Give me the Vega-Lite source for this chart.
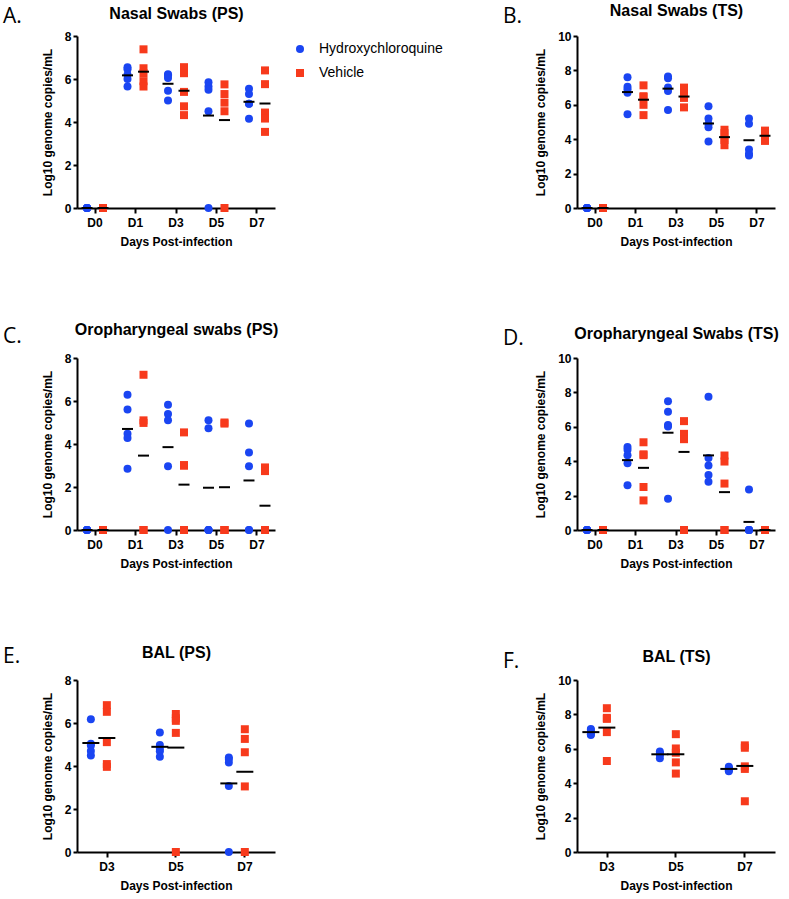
{
  "$schema": "https://vega.github.io/schema/vega-lite/v6.json",
  "padding": {"left": 3, "top": 2, "right": 5, "bottom": 5},
  "columns": 2,
  "bounds": "flush",
  "spacing": {"row": 150, "column": 302},
  "datasets": {
    "nasalPS": [
      {"day":"D0","group":"Hydroxychloroquine","value":0},{"day":"D0","group":"Hydroxychloroquine","value":0},{"day":"D0","group":"Hydroxychloroquine","value":0},{"day":"D0","group":"Hydroxychloroquine","value":0},{"day":"D0","group":"Hydroxychloroquine","value":0},
      {"day":"D0","group":"Vehicle","value":0},{"day":"D0","group":"Vehicle","value":0},{"day":"D0","group":"Vehicle","value":0},{"day":"D0","group":"Vehicle","value":0},{"day":"D0","group":"Vehicle","value":0},
      {"day":"D1","group":"Hydroxychloroquine","value":6.55},{"day":"D1","group":"Hydroxychloroquine","value":6.45},{"day":"D1","group":"Hydroxychloroquine","value":6.2},{"day":"D1","group":"Hydroxychloroquine","value":6.0},{"day":"D1","group":"Hydroxychloroquine","value":5.65},
      {"day":"D1","group":"Vehicle","value":7.38},{"day":"D1","group":"Vehicle","value":6.5},{"day":"D1","group":"Vehicle","value":6.27},{"day":"D1","group":"Vehicle","value":5.9},{"day":"D1","group":"Vehicle","value":5.65},
      {"day":"D3","group":"Hydroxychloroquine","value":6.22},{"day":"D3","group":"Hydroxychloroquine","value":6.17},{"day":"D3","group":"Hydroxychloroquine","value":6.05},{"day":"D3","group":"Hydroxychloroquine","value":5.45},{"day":"D3","group":"Hydroxychloroquine","value":5.0},
      {"day":"D3","group":"Vehicle","value":6.55},{"day":"D3","group":"Vehicle","value":6.27},{"day":"D3","group":"Vehicle","value":5.4},{"day":"D3","group":"Vehicle","value":4.73},{"day":"D3","group":"Vehicle","value":4.32},
      {"day":"D5","group":"Hydroxychloroquine","value":5.85},{"day":"D5","group":"Hydroxychloroquine","value":5.65},{"day":"D5","group":"Hydroxychloroquine","value":5.5},{"day":"D5","group":"Hydroxychloroquine","value":4.5},{"day":"D5","group":"Hydroxychloroquine","value":0},
      {"day":"D5","group":"Vehicle","value":5.75},{"day":"D5","group":"Vehicle","value":5.3},{"day":"D5","group":"Vehicle","value":4.9},{"day":"D5","group":"Vehicle","value":4.5},{"day":"D5","group":"Vehicle","value":0},
      {"day":"D7","group":"Hydroxychloroquine","value":5.55},{"day":"D7","group":"Hydroxychloroquine","value":5.3},{"day":"D7","group":"Hydroxychloroquine","value":4.85},{"day":"D7","group":"Hydroxychloroquine","value":4.85},{"day":"D7","group":"Hydroxychloroquine","value":4.15},
      {"day":"D7","group":"Vehicle","value":6.4},{"day":"D7","group":"Vehicle","value":5.76},{"day":"D7","group":"Vehicle","value":4.44},{"day":"D7","group":"Vehicle","value":4.16},{"day":"D7","group":"Vehicle","value":3.54}
    ],
    "nasalTS": [
      {"day":"D0","group":"Hydroxychloroquine","value":0},{"day":"D0","group":"Hydroxychloroquine","value":0},{"day":"D0","group":"Hydroxychloroquine","value":0},{"day":"D0","group":"Hydroxychloroquine","value":0},{"day":"D0","group":"Hydroxychloroquine","value":0},
      {"day":"D0","group":"Vehicle","value":0},{"day":"D0","group":"Vehicle","value":0},{"day":"D0","group":"Vehicle","value":0},{"day":"D0","group":"Vehicle","value":0},{"day":"D0","group":"Vehicle","value":0},
      {"day":"D1","group":"Hydroxychloroquine","value":7.6},{"day":"D1","group":"Hydroxychloroquine","value":7.05},{"day":"D1","group":"Hydroxychloroquine","value":6.9},{"day":"D1","group":"Hydroxychloroquine","value":6.7},{"day":"D1","group":"Hydroxychloroquine","value":5.45},
      {"day":"D1","group":"Vehicle","value":7.13},{"day":"D1","group":"Vehicle","value":6.5},{"day":"D1","group":"Vehicle","value":6.45},{"day":"D1","group":"Vehicle","value":6.0},{"day":"D1","group":"Vehicle","value":5.4},
      {"day":"D3","group":"Hydroxychloroquine","value":7.65},{"day":"D3","group":"Hydroxychloroquine","value":7.55},{"day":"D3","group":"Hydroxychloroquine","value":7.0},{"day":"D3","group":"Hydroxychloroquine","value":6.8},{"day":"D3","group":"Hydroxychloroquine","value":5.7},
      {"day":"D3","group":"Vehicle","value":7.0},{"day":"D3","group":"Vehicle","value":6.65},{"day":"D3","group":"Vehicle","value":6.5},{"day":"D3","group":"Vehicle","value":6.4},{"day":"D3","group":"Vehicle","value":5.85},
      {"day":"D5","group":"Hydroxychloroquine","value":5.92},{"day":"D5","group":"Hydroxychloroquine","value":5.2},{"day":"D5","group":"Hydroxychloroquine","value":4.89},{"day":"D5","group":"Hydroxychloroquine","value":4.7},{"day":"D5","group":"Hydroxychloroquine","value":3.86},
      {"day":"D5","group":"Vehicle","value":4.55},{"day":"D5","group":"Vehicle","value":4.35},{"day":"D5","group":"Vehicle","value":4.1},{"day":"D5","group":"Vehicle","value":3.95},{"day":"D5","group":"Vehicle","value":3.65},
      {"day":"D7","group":"Hydroxychloroquine","value":5.2},{"day":"D7","group":"Hydroxychloroquine","value":4.9},{"day":"D7","group":"Hydroxychloroquine","value":3.4},{"day":"D7","group":"Hydroxychloroquine","value":3.15},{"day":"D7","group":"Hydroxychloroquine","value":3.05},
      {"day":"D7","group":"Vehicle","value":4.5},{"day":"D7","group":"Vehicle","value":4.35},{"day":"D7","group":"Vehicle","value":4.2},{"day":"D7","group":"Vehicle","value":4.05},{"day":"D7","group":"Vehicle","value":3.9}
    ],
    "oroPS": [
      {"day":"D0","group":"Hydroxychloroquine","value":0},{"day":"D0","group":"Hydroxychloroquine","value":0},{"day":"D0","group":"Hydroxychloroquine","value":0},{"day":"D0","group":"Hydroxychloroquine","value":0},{"day":"D0","group":"Hydroxychloroquine","value":0},
      {"day":"D0","group":"Vehicle","value":0},{"day":"D0","group":"Vehicle","value":0},{"day":"D0","group":"Vehicle","value":0},{"day":"D0","group":"Vehicle","value":0},{"day":"D0","group":"Vehicle","value":0},
      {"day":"D1","group":"Hydroxychloroquine","value":6.29},{"day":"D1","group":"Hydroxychloroquine","value":5.6},{"day":"D1","group":"Hydroxychloroquine","value":4.48},{"day":"D1","group":"Hydroxychloroquine","value":4.28},{"day":"D1","group":"Hydroxychloroquine","value":2.85},
      {"day":"D1","group":"Vehicle","value":7.22},{"day":"D1","group":"Vehicle","value":5.1},{"day":"D1","group":"Vehicle","value":4.98},{"day":"D1","group":"Vehicle","value":0},{"day":"D1","group":"Vehicle","value":0},
      {"day":"D3","group":"Hydroxychloroquine","value":5.82},{"day":"D3","group":"Hydroxychloroquine","value":5.39},{"day":"D3","group":"Hydroxychloroquine","value":5.1},{"day":"D3","group":"Hydroxychloroquine","value":2.96},{"day":"D3","group":"Hydroxychloroquine","value":0},
      {"day":"D3","group":"Vehicle","value":4.54},{"day":"D3","group":"Vehicle","value":3.02},{"day":"D3","group":"Vehicle","value":2.99},{"day":"D3","group":"Vehicle","value":0},{"day":"D3","group":"Vehicle","value":0},
      {"day":"D5","group":"Hydroxychloroquine","value":5.1},{"day":"D5","group":"Hydroxychloroquine","value":4.73},{"day":"D5","group":"Hydroxychloroquine","value":0},{"day":"D5","group":"Hydroxychloroquine","value":0},{"day":"D5","group":"Hydroxychloroquine","value":0},
      {"day":"D5","group":"Vehicle","value":5.0},{"day":"D5","group":"Vehicle","value":4.95},{"day":"D5","group":"Vehicle","value":0},{"day":"D5","group":"Vehicle","value":0},{"day":"D5","group":"Vehicle","value":0},
      {"day":"D7","group":"Hydroxychloroquine","value":4.95},{"day":"D7","group":"Hydroxychloroquine","value":3.61},{"day":"D7","group":"Hydroxychloroquine","value":2.96},{"day":"D7","group":"Hydroxychloroquine","value":0},{"day":"D7","group":"Hydroxychloroquine","value":0},
      {"day":"D7","group":"Vehicle","value":2.91},{"day":"D7","group":"Vehicle","value":2.74},{"day":"D7","group":"Vehicle","value":0},{"day":"D7","group":"Vehicle","value":0},{"day":"D7","group":"Vehicle","value":0}
    ],
    "oroTS": [
      {"day":"D0","group":"Hydroxychloroquine","value":0},{"day":"D0","group":"Hydroxychloroquine","value":0},{"day":"D0","group":"Hydroxychloroquine","value":0},{"day":"D0","group":"Hydroxychloroquine","value":0},{"day":"D0","group":"Hydroxychloroquine","value":0},
      {"day":"D0","group":"Vehicle","value":0},{"day":"D0","group":"Vehicle","value":0},{"day":"D0","group":"Vehicle","value":0},{"day":"D0","group":"Vehicle","value":0},{"day":"D0","group":"Vehicle","value":0},
      {"day":"D1","group":"Hydroxychloroquine","value":4.82},{"day":"D1","group":"Hydroxychloroquine","value":4.66},{"day":"D1","group":"Hydroxychloroquine","value":4.35},{"day":"D1","group":"Hydroxychloroquine","value":3.88},{"day":"D1","group":"Hydroxychloroquine","value":2.6},
      {"day":"D1","group":"Vehicle","value":5.1},{"day":"D1","group":"Vehicle","value":4.4},{"day":"D1","group":"Vehicle","value":4.35},{"day":"D1","group":"Vehicle","value":2.5},{"day":"D1","group":"Vehicle","value":1.72},
      {"day":"D3","group":"Hydroxychloroquine","value":7.48},{"day":"D3","group":"Hydroxychloroquine","value":6.87},{"day":"D3","group":"Hydroxychloroquine","value":6.1},{"day":"D3","group":"Hydroxychloroquine","value":6.02},{"day":"D3","group":"Hydroxychloroquine","value":1.81},
      {"day":"D3","group":"Vehicle","value":6.33},{"day":"D3","group":"Vehicle","value":5.59},{"day":"D3","group":"Vehicle","value":5.5},{"day":"D3","group":"Vehicle","value":5.28},{"day":"D3","group":"Vehicle","value":0},
      {"day":"D5","group":"Hydroxychloroquine","value":7.75},{"day":"D5","group":"Hydroxychloroquine","value":4.19},{"day":"D5","group":"Hydroxychloroquine","value":3.75},{"day":"D5","group":"Hydroxychloroquine","value":3.2},{"day":"D5","group":"Hydroxychloroquine","value":2.8},
      {"day":"D5","group":"Vehicle","value":4.33},{"day":"D5","group":"Vehicle","value":3.98},{"day":"D5","group":"Vehicle","value":2.7},{"day":"D5","group":"Vehicle","value":0},{"day":"D5","group":"Vehicle","value":0},
      {"day":"D7","group":"Hydroxychloroquine","value":2.35},{"day":"D7","group":"Hydroxychloroquine","value":0},{"day":"D7","group":"Hydroxychloroquine","value":0},{"day":"D7","group":"Hydroxychloroquine","value":0},{"day":"D7","group":"Hydroxychloroquine","value":0},
      {"day":"D7","group":"Vehicle","value":0},{"day":"D7","group":"Vehicle","value":0},{"day":"D7","group":"Vehicle","value":0},{"day":"D7","group":"Vehicle","value":0},{"day":"D7","group":"Vehicle","value":0}
    ],
    "balPS": [
      {"day":"D3","group":"Hydroxychloroquine","value":6.18},{"day":"D3","group":"Hydroxychloroquine","value":5.03},{"day":"D3","group":"Hydroxychloroquine","value":4.95},{"day":"D3","group":"Hydroxychloroquine","value":4.7},{"day":"D3","group":"Hydroxychloroquine","value":4.49},
      {"day":"D3","group":"Vehicle","value":6.83},{"day":"D3","group":"Vehicle","value":6.52},{"day":"D3","group":"Vehicle","value":5.11},{"day":"D3","group":"Vehicle","value":4.09},{"day":"D3","group":"Vehicle","value":3.96},
      {"day":"D5","group":"Hydroxychloroquine","value":5.56},{"day":"D5","group":"Hydroxychloroquine","value":4.98},{"day":"D5","group":"Hydroxychloroquine","value":4.8},{"day":"D5","group":"Hydroxychloroquine","value":4.69},{"day":"D5","group":"Hydroxychloroquine","value":4.43},
      {"day":"D5","group":"Vehicle","value":6.42},{"day":"D5","group":"Vehicle","value":6.22},{"day":"D5","group":"Vehicle","value":6.1},{"day":"D5","group":"Vehicle","value":5.54},{"day":"D5","group":"Vehicle","value":0},
      {"day":"D7","group":"Hydroxychloroquine","value":4.4},{"day":"D7","group":"Hydroxychloroquine","value":4.32},{"day":"D7","group":"Hydroxychloroquine","value":4.16},{"day":"D7","group":"Hydroxychloroquine","value":3.07},{"day":"D7","group":"Hydroxychloroquine","value":0},
      {"day":"D7","group":"Vehicle","value":5.71},{"day":"D7","group":"Vehicle","value":5.26},{"day":"D7","group":"Vehicle","value":4.64},{"day":"D7","group":"Vehicle","value":3.05},{"day":"D7","group":"Vehicle","value":0}
    ],
    "balTS": [
      {"day":"D3","group":"Hydroxychloroquine","value":7.15},{"day":"D3","group":"Hydroxychloroquine","value":7.1},{"day":"D3","group":"Hydroxychloroquine","value":6.95},{"day":"D3","group":"Hydroxychloroquine","value":6.85},{"day":"D3","group":"Hydroxychloroquine","value":6.8},
      {"day":"D3","group":"Vehicle","value":8.36},{"day":"D3","group":"Vehicle","value":7.8},{"day":"D3","group":"Vehicle","value":7.74},{"day":"D3","group":"Vehicle","value":6.97},{"day":"D3","group":"Vehicle","value":5.29},
      {"day":"D5","group":"Hydroxychloroquine","value":5.85},{"day":"D5","group":"Hydroxychloroquine","value":5.75},{"day":"D5","group":"Hydroxychloroquine","value":5.7},{"day":"D5","group":"Hydroxychloroquine","value":5.65},{"day":"D5","group":"Hydroxychloroquine","value":5.45},
      {"day":"D5","group":"Vehicle","value":6.85},{"day":"D5","group":"Vehicle","value":6.02},{"day":"D5","group":"Vehicle","value":5.77},{"day":"D5","group":"Vehicle","value":5.21},{"day":"D5","group":"Vehicle","value":4.56},
      {"day":"D7","group":"Hydroxychloroquine","value":4.95},{"day":"D7","group":"Hydroxychloroquine","value":4.9},{"day":"D7","group":"Hydroxychloroquine","value":4.85},{"day":"D7","group":"Hydroxychloroquine","value":4.75},{"day":"D7","group":"Hydroxychloroquine","value":4.7},
      {"day":"D7","group":"Vehicle","value":6.2},{"day":"D7","group":"Vehicle","value":6.06},{"day":"D7","group":"Vehicle","value":4.98},{"day":"D7","group":"Vehicle","value":4.83},{"day":"D7","group":"Vehicle","value":2.95}
    ]
  },
  "concat": [
    {
      "width": 198, "height": 172,
      "data": {"name": "nasalPS"},
      "title": {"text": "A.", "dy": 26},
      "layer": [
        {"mark": {"type": "point", "filled": true, "opacity": 1, "size": 64},
         "encoding": {
           "x": {"field": "day", "type": "nominal", "scale": {"domain": ["D0","D1","D3","D5","D7"], "paddingInner": 0.21, "paddingOuter": 0.05}, "axis": {"title": "Days Post-infection"}},
           "xOffset": {"field": "group", "type": "nominal", "scale": {"paddingInner": 0, "paddingOuter": 0}},
           "y": {"field": "value", "type": "quantitative", "scale": {"domain": [0, 8], "nice": false}, "axis": {"values": [0,2,4,6,8], "title": "Log10 genome copies/mL"}},
           "color": {"field": "group", "type": "nominal", "scale": {"domain": ["Hydroxychloroquine","Vehicle"], "range": ["#1a45f2","#f73a1c"]}, "legend": {"title": null, "orient": "none", "legendX": 216, "legendY": 6}},
           "shape": {"field": "group", "type": "nominal", "scale": {"domain": ["Hydroxychloroquine","Vehicle"], "range": ["circle","square"]}, "legend": {"title": null, "orient": "none", "legendX": 216, "legendY": 6}}
         }},
        {"mark": {"type": "tick", "color": "black", "thickness": 2, "size": 11},
         "encoding": {
           "x": {"field": "day", "type": "nominal", "axis": {"orient": "top", "title": "Nasal Swabs (PS)", "labels": false, "ticks": false, "domain": false, "titleFontSize": 16, "titlePadding": 15}},
           "xOffset": {"field": "group", "type": "nominal"},
           "y": {"aggregate": "mean", "field": "value", "type": "quantitative", "axis": {"values": [0,2,4,6,8], "title": "Log10 genome copies/mL"}}
         }}
      ],
      "resolve": {"axis": {"x": "independent"}}
    },
    {
      "width": 198, "height": 172,
      "data": {"name": "nasalTS"},
      "title": {"text": "B.", "dy": 29},
      "layer": [
        {"mark": {"type": "point", "filled": true, "opacity": 1, "size": 64},
         "encoding": {
           "x": {"field": "day", "type": "nominal", "scale": {"domain": ["D0","D1","D3","D5","D7"], "paddingInner": 0.21, "paddingOuter": 0.05}, "axis": {"title": "Days Post-infection"}},
           "xOffset": {"field": "group", "type": "nominal", "scale": {"paddingInner": 0, "paddingOuter": 0}},
           "y": {"field": "value", "type": "quantitative", "scale": {"domain": [0, 10], "nice": false}, "axis": {"values": [0,2,4,6,8,10], "title": "Log10 genome copies/mL"}},
           "color": {"field": "group", "type": "nominal", "scale": {"domain": ["Hydroxychloroquine","Vehicle"], "range": ["#1a45f2","#f73a1c"]}, "legend": null},
           "shape": {"field": "group", "type": "nominal", "scale": {"domain": ["Hydroxychloroquine","Vehicle"], "range": ["circle","square"]}, "legend": null}
         }},
        {"mark": {"type": "tick", "color": "black", "thickness": 2, "size": 11},
         "encoding": {
           "x": {"field": "day", "type": "nominal", "axis": {"orient": "top", "title": "Nasal Swabs (TS)", "labels": false, "ticks": false, "domain": false, "titleFontSize": 16, "titlePadding": 18}},
           "xOffset": {"field": "group", "type": "nominal"},
           "y": {"aggregate": "mean", "field": "value", "type": "quantitative", "axis": {"values": [0,2,4,6,8,10], "title": "Log10 genome copies/mL"}}
         }}
      ],
      "resolve": {"axis": {"x": "independent"}}
    },
    {
      "width": 198, "height": 172,
      "data": {"name": "oroPS"},
      "title": {"text": "C.", "dy": 30},
      "layer": [
        {"mark": {"type": "point", "filled": true, "opacity": 1, "size": 64},
         "encoding": {
           "x": {"field": "day", "type": "nominal", "scale": {"domain": ["D0","D1","D3","D5","D7"], "paddingInner": 0.21, "paddingOuter": 0.05}, "axis": {"title": "Days Post-infection"}},
           "xOffset": {"field": "group", "type": "nominal", "scale": {"paddingInner": 0, "paddingOuter": 0}},
           "y": {"field": "value", "type": "quantitative", "scale": {"domain": [0, 8], "nice": false}, "axis": {"values": [0,2,4,6,8], "title": "Log10 genome copies/mL"}},
           "color": {"field": "group", "type": "nominal", "scale": {"domain": ["Hydroxychloroquine","Vehicle"], "range": ["#1a45f2","#f73a1c"]}, "legend": null},
           "shape": {"field": "group", "type": "nominal", "scale": {"domain": ["Hydroxychloroquine","Vehicle"], "range": ["circle","square"]}, "legend": null}
         }},
        {"mark": {"type": "tick", "color": "black", "thickness": 2, "size": 11},
         "encoding": {
           "x": {"field": "day", "type": "nominal", "axis": {"orient": "top", "title": "Oropharyngeal swabs (PS)", "labels": false, "ticks": false, "domain": false, "titleFontSize": 16, "titlePadding": 21}},
           "xOffset": {"field": "group", "type": "nominal"},
           "y": {"aggregate": "mean", "field": "value", "type": "quantitative", "axis": {"values": [0,2,4,6,8], "title": "Log10 genome copies/mL"}}
         }}
      ],
      "resolve": {"axis": {"x": "independent"}}
    },
    {
      "width": 198, "height": 172,
      "data": {"name": "oroTS"},
      "title": {"text": "D.", "dy": 28},
      "layer": [
        {"mark": {"type": "point", "filled": true, "opacity": 1, "size": 64},
         "encoding": {
           "x": {"field": "day", "type": "nominal", "scale": {"domain": ["D0","D1","D3","D5","D7"], "paddingInner": 0.21, "paddingOuter": 0.05}, "axis": {"title": "Days Post-infection"}},
           "xOffset": {"field": "group", "type": "nominal", "scale": {"paddingInner": 0, "paddingOuter": 0}},
           "y": {"field": "value", "type": "quantitative", "scale": {"domain": [0, 10], "nice": false}, "axis": {"values": [0,2,4,6,8,10], "title": "Log10 genome copies/mL"}},
           "color": {"field": "group", "type": "nominal", "scale": {"domain": ["Hydroxychloroquine","Vehicle"], "range": ["#1a45f2","#f73a1c"]}, "legend": null},
           "shape": {"field": "group", "type": "nominal", "scale": {"domain": ["Hydroxychloroquine","Vehicle"], "range": ["circle","square"]}, "legend": null}
         }},
        {"mark": {"type": "tick", "color": "black", "thickness": 2, "size": 11},
         "encoding": {
           "x": {"field": "day", "type": "nominal", "axis": {"orient": "top", "title": "Oropharyngeal Swabs  (TS)", "labels": false, "ticks": false, "domain": false, "titleFontSize": 16, "titlePadding": 17}},
           "xOffset": {"field": "group", "type": "nominal"},
           "y": {"aggregate": "mean", "field": "value", "type": "quantitative", "axis": {"values": [0,2,4,6,8,10], "title": "Log10 genome copies/mL"}}
         }}
      ],
      "resolve": {"axis": {"x": "independent"}}
    },
    {
      "width": 198, "height": 172,
      "data": {"name": "balPS"},
      "title": {"text": "E.", "dy": 27},
      "layer": [
        {"mark": {"type": "point", "filled": true, "opacity": 1, "size": 64},
         "encoding": {
           "x": {"field": "day", "type": "nominal", "scale": {"domain": ["D3","D5","D7"], "paddingInner": 0.3, "paddingOuter": 0.085}, "axis": {"title": "Days Post-infection"}},
           "xOffset": {"field": "group", "type": "nominal", "scale": {"paddingInner": 0, "paddingOuter": 0}},
           "y": {"field": "value", "type": "quantitative", "scale": {"domain": [0, 8], "nice": false}, "axis": {"values": [0,2,4,6,8], "title": "Log10 genome copies/mL"}},
           "color": {"field": "group", "type": "nominal", "scale": {"domain": ["Hydroxychloroquine","Vehicle"], "range": ["#1a45f2","#f73a1c"]}, "legend": null},
           "shape": {"field": "group", "type": "nominal", "scale": {"domain": ["Hydroxychloroquine","Vehicle"], "range": ["circle","square"]}, "legend": null}
         }},
        {"mark": {"type": "tick", "color": "black", "thickness": 2, "size": 17},
         "encoding": {
           "x": {"field": "day", "type": "nominal", "axis": {"orient": "top", "title": "BAL (PS)", "labels": false, "ticks": false, "domain": false, "titleFontSize": 16, "titlePadding": 20}},
           "xOffset": {"field": "group", "type": "nominal"},
           "y": {"aggregate": "mean", "field": "value", "type": "quantitative", "axis": {"values": [0,2,4,6,8], "title": "Log10 genome copies/mL"}}
         }}
      ],
      "resolve": {"axis": {"x": "independent"}}
    },
    {
      "width": 198, "height": 172,
      "data": {"name": "balTS"},
      "title": {"text": "F.", "dy": 28},
      "layer": [
        {"mark": {"type": "point", "filled": true, "opacity": 1, "size": 64},
         "encoding": {
           "x": {"field": "day", "type": "nominal", "scale": {"domain": ["D3","D5","D7"], "paddingInner": 0.3, "paddingOuter": 0.085}, "axis": {"title": "Days Post-infection"}},
           "xOffset": {"field": "group", "type": "nominal", "scale": {"paddingInner": 0, "paddingOuter": 0}},
           "y": {"field": "value", "type": "quantitative", "scale": {"domain": [0, 10], "nice": false}, "axis": {"values": [0,2,4,6,8,10], "title": "Log10 genome copies/mL"}},
           "color": {"field": "group", "type": "nominal", "scale": {"domain": ["Hydroxychloroquine","Vehicle"], "range": ["#1a45f2","#f73a1c"]}, "legend": null},
           "shape": {"field": "group", "type": "nominal", "scale": {"domain": ["Hydroxychloroquine","Vehicle"], "range": ["circle","square"]}, "legend": null}
         }},
        {"mark": {"type": "tick", "color": "black", "thickness": 2, "size": 17},
         "encoding": {
           "x": {"field": "day", "type": "nominal", "axis": {"orient": "top", "title": "BAL (TS)", "labels": false, "ticks": false, "domain": false, "titleFontSize": 16, "titlePadding": 16}},
           "xOffset": {"field": "group", "type": "nominal"},
           "y": {"aggregate": "mean", "field": "value", "type": "quantitative", "axis": {"values": [0,2,4,6,8,10], "title": "Log10 genome copies/mL"}}
         }}
      ],
      "resolve": {"axis": {"x": "independent"}}
    }
  ],
  "resolve": {
    "scale": {"x": "independent", "y": "independent"},
    "legend": {"color": "independent", "shape": "independent"}
  },
  "config": {
    "view": {"stroke": null},
    "font": "Liberation Sans",
    "axis": {
      "grid": false,
      "domainColor": "black", "domainWidth": 2,
      "tickColor": "black", "tickWidth": 2,
      "labelColor": "black", "labelFont": "Liberation Sans", "labelFontWeight": "bold", "labelFontSize": 12,
      "titleColor": "black", "titleFont": "Liberation Sans", "titleFontWeight": "bold", "titleFontSize": 12
    },
    "axisX": {"labelAngle": 0, "tickSize": 5, "labelPadding": 4, "titlePadding": 8},
    "axisY": {"tickSize": 4, "labelPadding": 2, "titlePadding": 10},
    "title": {"font": "Open Sans", "fontSize": 21, "fontWeight": "normal", "color": "black", "anchor": "start", "frame": "group", "dx": -74, "offset": 0, "baseline": "alphabetic"},
    "legend": {"labelFont": "Liberation Sans", "labelFontSize": 14, "labelColor": "black", "symbolSize": 64, "labelOffset": 12, "rowPadding": 10, "symbolStrokeWidth": 0}
  }
}
